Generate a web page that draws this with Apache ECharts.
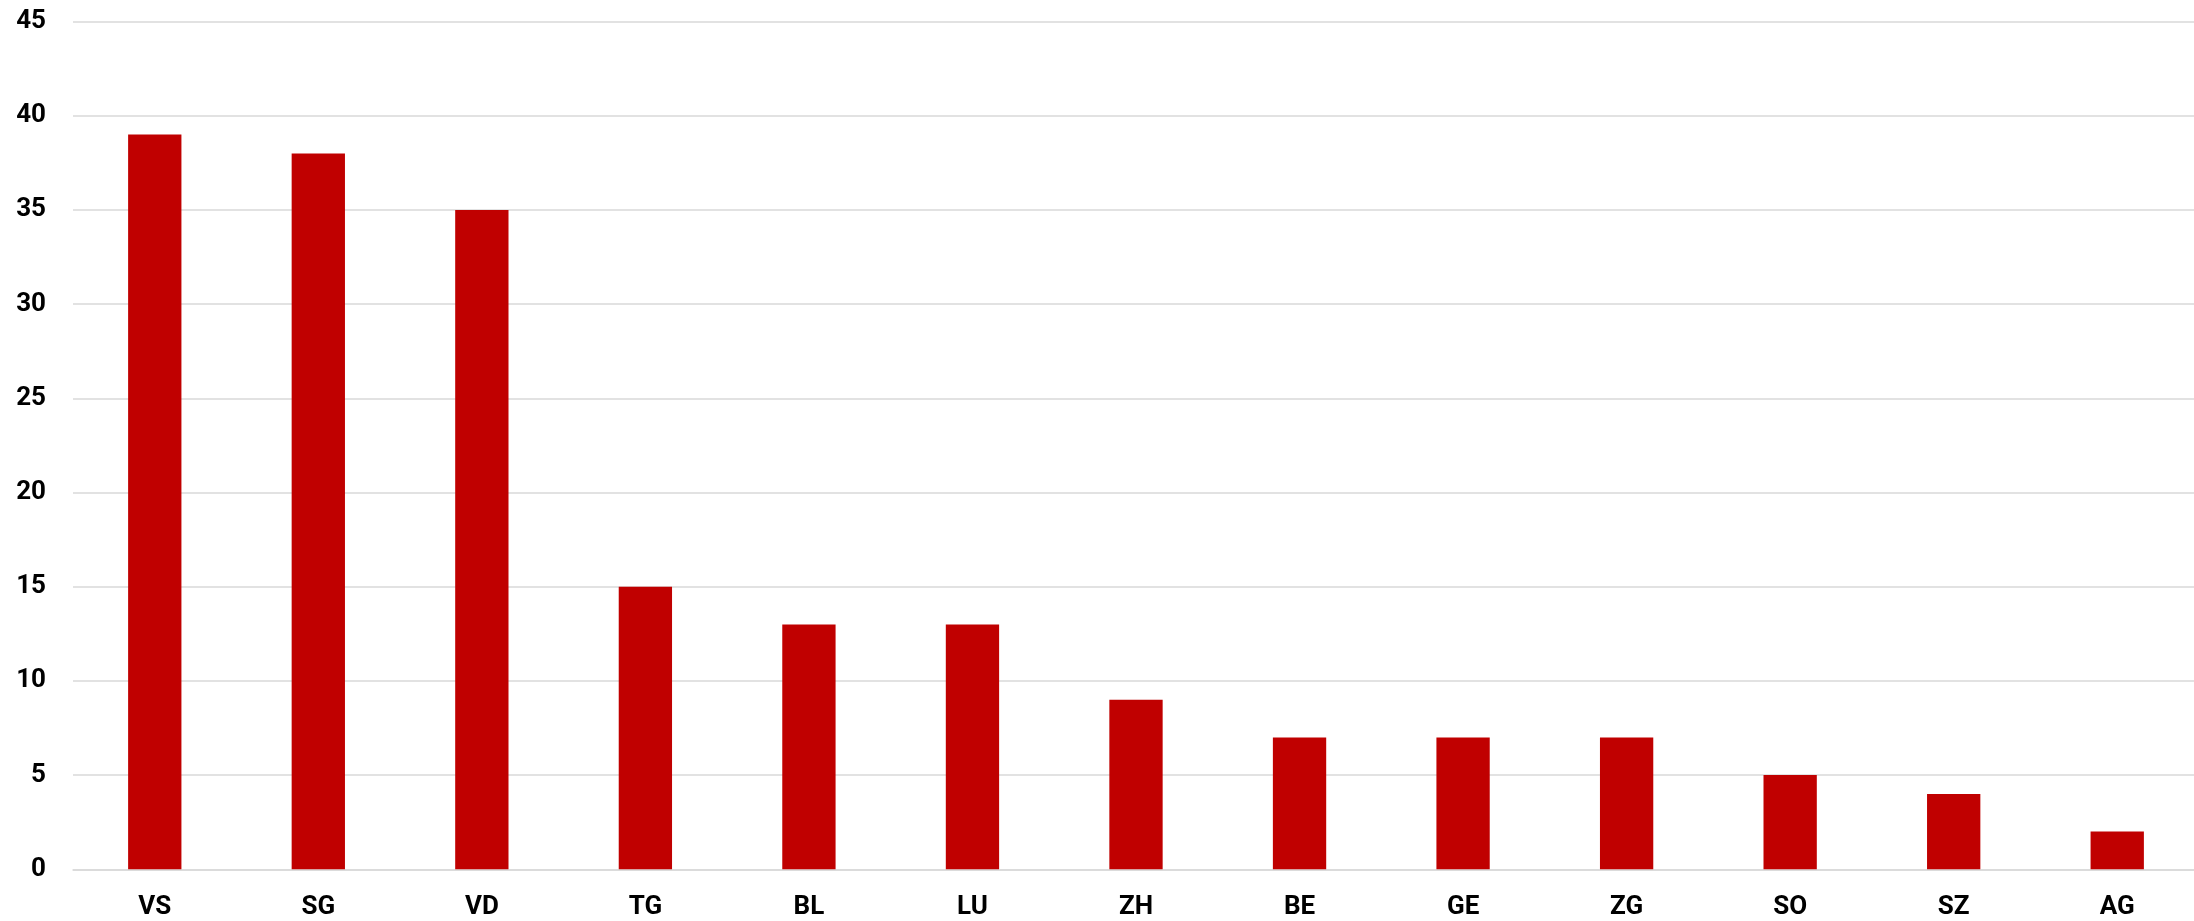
<!DOCTYPE html>
<html>
<head>
<meta charset="utf-8">
<script src="https://cdn.jsdelivr.net/npm/echarts@6/dist/echarts.min.js"></script>
<style>
html,body{margin:0;padding:0;background:#fff;overflow:hidden;}
#chart{width:2200px;height:921px;}
</style>
</head>
<body>
<div id="chart"></div>
<script>
const categories = ['VS','SG','VD','TG','BL','LU','ZH','BE','GE','ZG','SO','SZ','AG'];
const values = [39,38,35,15,13,13,9,7,7,7,5,4,2];

const chart = echarts.init(document.getElementById('chart'), null, {renderer:'canvas'});
const labelFont = {fontFamily:'Roboto', fontWeight:'bold', fontSize:26, color:'#000'};
chart.setOption({
  animation:false,
  grid:{left:73, top:21.5, width:2126, bottom:51.7, containLabel:false},
  xAxis:{
    type:'category',
    data:categories,
    axisLine:{show:true, lineStyle:{color:'#d9d9d9', width:1.5}},
    axisTick:{show:false},
    axisLabel:Object.assign({margin:25}, labelFont)
  },
  yAxis:{
    type:'value',
    min:0, max:45, interval:5,
    axisLine:{show:false},
    axisTick:{show:false},
    splitLine:{lineStyle:{color:'#d9d9d9', width:1.5}},
    axisLabel:Object.assign({margin:27}, labelFont)
  },
  series:[{
    type:'bar',
    data:values,
    barWidth:'32.6%',
    itemStyle:{color:'#c00000'}
  }]
});
</script>
</body>
</html>
